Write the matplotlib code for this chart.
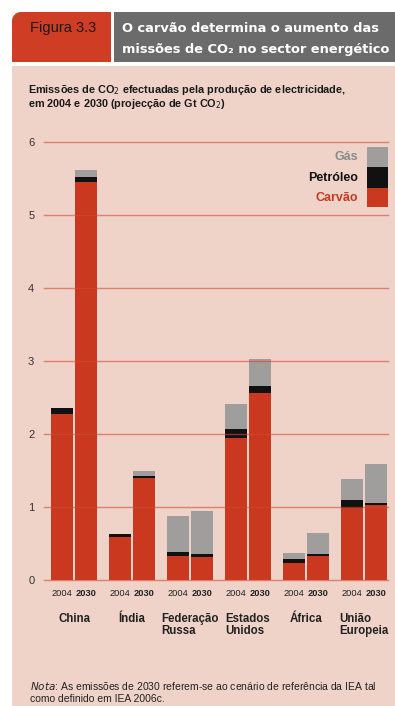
import matplotlib
matplotlib.use("Agg")
import matplotlib.pyplot as plt
import numpy as np
from matplotlib.patches import Rectangle, PathPatch
from matplotlib.path import Path

# ---- data ----
countries = ['China', 'Índia', 'Federação\nRussa', 'Estados\nUnidos', 'África', 'União\nEuropeia']
years = ['2004', '2030']
coal_2004 = [2.27, 0.585, 0.33, 1.95, 0.23, 0.99]
oil_2004 = [0.09, 0.04, 0.06, 0.12, 0.06, 0.10]
gas_2004 = [0.00, 0.00, 0.48, 0.34, 0.08, 0.29]
coal_2030 = [5.45, 1.39, 0.31, 2.56, 0.33, 1.02]
oil_2030 = [0.06, 0.04, 0.04, 0.09, 0.03, 0.04]
gas_2030 = [0.10, 0.06, 0.60, 0.38, 0.29, 0.53]
yticks = [0, 1, 2, 3, 4, 5, 6]
legend_labels = ['Gás', 'Petróleo', 'Carvão']

NARROW = ['Liberation Sans', 'DejaVu Sans']
WIDE = ['DejaVu Sans']

C_PANEL = '#EFD3C8'
C_RED = '#C9381F'
C_HRED = '#CF3D25'
C_HGRAY = '#6B6B6B'
C_GAS = '#A09D9D'
C_OIL = '#111111'
C_GRID = '#D24A33'

W, H = 395, 706
fig = plt.figure(figsize=(W / 100, H / 100), dpi=100)
fig.patch.set_facecolor('white')

def fx(px):
    return px / W

def fy(py):
    return 1 - py / H

# panel background
fig.patches.append(Rectangle((fx(12), 0), 1 - fx(12), fy(66), transform=fig.transFigure,
                             facecolor=C_PANEL, edgecolor='none', zorder=-5))
# header red box with rounded top-left corner
r = 9
x0, x1, y0, y1 = 12, 111, 12, 62
ang = np.linspace(np.pi, np.pi / 2, 12)
verts = [(fx(x0), fy(y1))]
verts += [(fx(x0 + r + r * np.cos(a)), fy(y0 + r - r * np.sin(a))) for a in ang]
verts += [(fx(x1), fy(y0)), (fx(x1), fy(y1)), (fx(x0), fy(y1))]
codes = [Path.MOVETO] + [Path.LINETO] * (len(verts) - 2) + [Path.CLOSEPOLY]
fig.patches.append(PathPatch(Path(verts, codes), transform=fig.transFigure,
                             facecolor=C_HRED, edgecolor='none', zorder=1))
fig.patches.append(Rectangle((fx(114), fy(62)), 1 - fx(114), (62 - 12) / H,
                             transform=fig.transFigure, facecolor=C_HGRAY,
                             edgecolor='none', zorder=1))

fig.text(fx(30), fy(28), 'Figura 3.3', family=NARROW, fontsize=10.5, color='#1a1a1a',
         ha='left', va='center')
fig.text(fx(122), fy(29), 'O carvão determina o aumento das', family=WIDE,
         fontweight='bold', fontsize=9.4, color='white', ha='left', va='center')
fig.text(fx(122), fy(49), 'missões de CO₂ no sector energético', family=WIDE,
         fontweight='bold', fontsize=9.4, color='white', ha='left', va='center')

fig.text(fx(28), fy(90), 'Emissões de CO$_2$ efectuadas pela produção de electricidade,',
         family=NARROW, fontweight='bold', fontsize=7.8, color='#1a1a1a', ha='left', va='center')
fig.text(fx(28), fy(104), 'em 2004 e 2030 (projecção de Gt CO$_2$)',
         family=NARROW, fontweight='bold', fontsize=7.8, color='#1a1a1a', ha='left', va='center')

# ---- chart ----
ax = fig.add_axes([fx(44), fy(580), fx(388) - fx(44), (580 - 141.6) / H])
ax.patch.set_alpha(0)
for s in ax.spines.values():
    s.set_visible(False)
ax.set_ylim(0, 6)
ax.set_xlim(-0.518, 5.42)

x = np.arange(len(countries))
bw = 0.38
off = 0.207
for xs, coal, oil, gas in [(x - off, coal_2004, oil_2004, gas_2004),
                           (x + off, coal_2030, oil_2030, gas_2030)]:
    coal = np.array(coal); oil = np.array(oil); gas = np.array(gas)
    ax.bar(xs, coal, bw, color=C_RED, zorder=2)
    ax.bar(xs, oil, bw, bottom=coal, color=C_OIL, zorder=2)
    ax.bar(xs, gas, bw, bottom=coal + oil, color=C_GAS, zorder=2)

for v in yticks:
    ax.axhline(v, color=C_GRID, lw=1.0, alpha=0.6, zorder=3, clip_on=False)

ax.set_xticks([])
ax.set_yticks(yticks)
ax.set_yticklabels([str(v) for v in yticks], family=NARROW, fontsize=8, color='#333333')
ax.tick_params(axis='y', length=0, pad=7)

for i in range(len(countries)):
    ax.text(x[i] - off, -0.178, years[0], family=NARROW, fontsize=6.7, color='#222222',
            ha='center', va='center', clip_on=False)
    ax.text(x[i] + off, -0.178, years[1], family=NARROW, fontsize=6.7, fontweight='bold',
            color='#222222', ha='center', va='center', clip_on=False)
    ax.text(x[i], -0.45, countries[i], family=NARROW, fontsize=8.3, fontweight='bold',
            color='#222222', ha='center', va='top', multialignment='left',
            linespacing=1.0, clip_on=False)

# legend
leg_colors = [C_GAS, C_OIL, C_RED]
leg_text_colors = ['#8a8a8a', '#111111', C_RED]
leg_tops = [147.3, 167.3, 188.3]
leg_bots = [167.3, 188.3, 207.3]
for lab, c, tc, t, b in zip(legend_labels, leg_colors, leg_text_colors, leg_tops, leg_bots):
    fig.patches.append(Rectangle((fx(366.7), fy(b)), (387.7 - 366.7) / W, (b - t) / H,
                                 transform=fig.transFigure, facecolor=c, edgecolor='none', zorder=4))
    fig.text(fx(358), fy((t + b) / 2), lab, family=NARROW, fontsize=9, fontweight='bold',
             color=tc, ha='right', va='center')

fig.text(fx(30), fy(686), r'$\it{Nota}$: As emissões de 2030 referem-se ao cenário de referência da IEA tal',
         family=NARROW, fontsize=7.5, color='#222222', ha='left', va='center')
fig.text(fx(30), fy(699), 'como definido em IEA 2006c.',
         family=NARROW, fontsize=7.5, color='#222222', ha='left', va='center')

fig.savefig('out.png', dpi=100, facecolor='white')
